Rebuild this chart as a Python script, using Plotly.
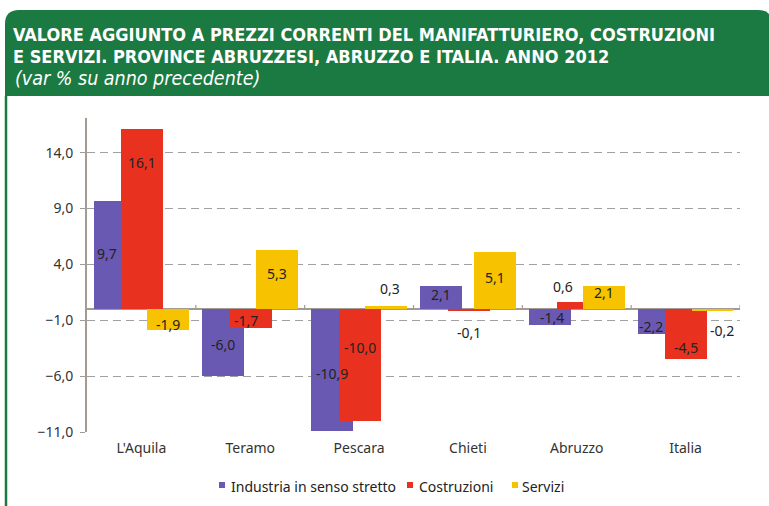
import plotly.graph_objects as go

# ---- data ----
categories = ["L'Aquila", "Teramo", "Pescara", "Chieti", "Abruzzo", "Italia"]
industria = [9.7, -6.0, -10.9, 2.1, -1.4, -2.2]
costruzioni = [16.1, -1.7, -10.0, -0.1, 0.6, -4.5]
servizi = [-1.9, 5.3, 0.3, 5.1, 2.1, -0.2]
series_names = ["Industria in senso stretto", "Costruzioni", "Servizi"]
y_ticks = [-11, -6, -1, 4, 9, 14]

# ---- styles ----
colors = ["#6a59b2", "#e8321f", "#f7c300"]
offsets = [-0.44, -0.185, 0.055]
bar_w = 0.385
GREEN = "#1b7a42"
FONT = "Noto Sans"
TITLE_FONT = "DejaVu Sans Condensed"
# label nudges in pixels: (dx, inward distance from bar end)
label_nudges = [
    [(-7, 53), (0, 32), (0, 57), (0, 9), (2, 7.5), (-8, 7)],
    [(0, 33), (-5, 8), (0, 73), (0, -22), (-15, -16), (0, 12)],
    [(0, 6), (0, 24), (4, -17), (0, 25), (0, 7), (9, -19)],
]

W, H = 769, 506
ML, MR, MT, MB = 87, 29, 118, 74
PW, PH = W - ML - MR, H - MT - MB


def px(x):
    return (x - ML) / PW


def py(y):
    return (H - MB - y) / PH


xs = list(range(len(categories)))
fig = go.Figure()
all_series = [industria, costruzioni, servizi]
for name, vals, col, off in zip(series_names, all_series, colors, offsets):
    fig.add_trace(go.Bar(
        x=xs, y=vals, name=name, marker=dict(color=col, line=dict(width=0)),
        offset=off, width=bar_w, showlegend=False, hoverinfo="y",
    ))

annotations = []
for vals, off, nudges in zip(all_series, offsets, label_nudges):
    for i, (v, (dx, dy)) in enumerate(zip(vals, nudges)):
        sgn = 1 if v >= 0 else -1
        annotations.append(dict(
            x=i + off + bar_w / 2, y=v, xref="x", yref="y",
            text=f"{v:.1f}".replace(".", ","), showarrow=False,
            xshift=dx, yshift=-sgn * dy,
            font=dict(family=FONT, size=14, color="#222222"),
            xanchor="center", yanchor="middle",
        ))

# header title
annotations += [
    dict(x=px(11), y=py(34), xref="paper", yref="paper", xanchor="left", yanchor="middle",
         text="<b>VALORE AGGIUNTO A PREZZI CORRENTI DEL MANIFATTURIERO, COSTRUZIONI</b>",
         showarrow=False, font=dict(family=TITLE_FONT, size=18, color="white")),
    dict(x=px(11), y=py(56), xref="paper", yref="paper", xanchor="left", yanchor="middle",
         text="<b>E SERVIZI. PROVINCE ABRUZZESI, ABRUZZO E ITALIA. ANNO 2012</b>",
         showarrow=False, font=dict(family=TITLE_FONT, size=18, color="white")),
    dict(x=px(13), y=py(79), xref="paper", yref="paper", xanchor="left", yanchor="middle",
         text="<i>(var % su anno precedente)</i>",
         showarrow=False, font=dict(family=TITLE_FONT, size=19.5, color="white")),
]

shapes = []
# header shape with rounded top corners
x0, x1, y0, y1 = 5, 772, 10, 96
rx, ry = 14 / PW, 14 / PH
path = (f"M {px(x0)},{py(y1)} L {px(x0)},{py(y0) - ry} Q {px(x0)},{py(y0)} {px(x0) + rx},{py(y0)} "
        f"L {px(x1) - rx},{py(y0)} Q {px(x1)},{py(y0)} {px(x1)},{py(y0) - ry} L {px(x1)},{py(y1)} Z")
shapes.append(dict(type="path", path=path, xref="paper", yref="paper",
                   fillcolor=GREEN, line=dict(width=0), layer="below"))
shapes.append(dict(type="line", xref="paper", yref="paper", x0=px(6), x1=px(6), y0=py(96), y1=py(510),
                   line=dict(color=GREEN, width=2.5)))

# category boundary ticks on zero line
for b in [i + 0.5 for i in range(len(categories))]:
    shapes.append(dict(type="line", xref="x", yref="y", x0=b, x1=b, y0=0, y1=4,
                       ysizemode="pixel", yanchor=0, line=dict(color="#a39a94", width=1.2)))

# legend (manual)
leg_items = [(219, 229), (407, 417), (512, 520)]
for (sqx, tx), name, col in zip(leg_items, series_names, colors):
    shapes.append(dict(type="rect", xref="paper", yref="paper", x0=px(sqx), x1=px(sqx + 6),
                       y0=py(488), y1=py(482), fillcolor=col, line=dict(width=0)))
    annotations.append(dict(x=px(tx), y=py(486), xref="paper", yref="paper", xanchor="left",
                            yanchor="middle", text=name, showarrow=False,
                            font=dict(family=FONT, size=14, color="#222222")))

fig.update_layout(
    width=W, height=H, margin=dict(l=ML, r=MR, t=MT, b=MB, pad=0),
    paper_bgcolor="white", plot_bgcolor="white",
    barmode="overlay", bargap=0, separators=",.",
    showlegend=False,
    annotations=annotations, shapes=shapes,
    xaxis=dict(range=[-0.5, len(categories) - 0.5], tickvals=xs, ticktext=categories,
               showgrid=False, zeroline=False, showline=False, ticks="",
               tickfont=dict(family=FONT, size=14, color="#333333"), ticklabelstandoff=6,
               fixedrange=True),
    yaxis=dict(range=[-11, 17.1], tickvals=y_ticks, tickformat=".1f",
               showgrid=True, gridcolor="#a0a0a0", griddash="8px,5px", gridwidth=1,
               zeroline=True, zerolinecolor="#a39a94", zerolinewidth=2,
               showline=True, linecolor="#a39a94", linewidth=2,
               ticks="outside", ticklen=5, tickcolor="#a39a94",
               tickfont=dict(family=FONT, size=14, color="#333333"), ticklabelstandoff=4,
               fixedrange=True),
)

fig.write_html("out.html", config={"displayModeBar": False},
               post_script="document.body.style.margin='0';document.body.style.overflow='hidden';")
